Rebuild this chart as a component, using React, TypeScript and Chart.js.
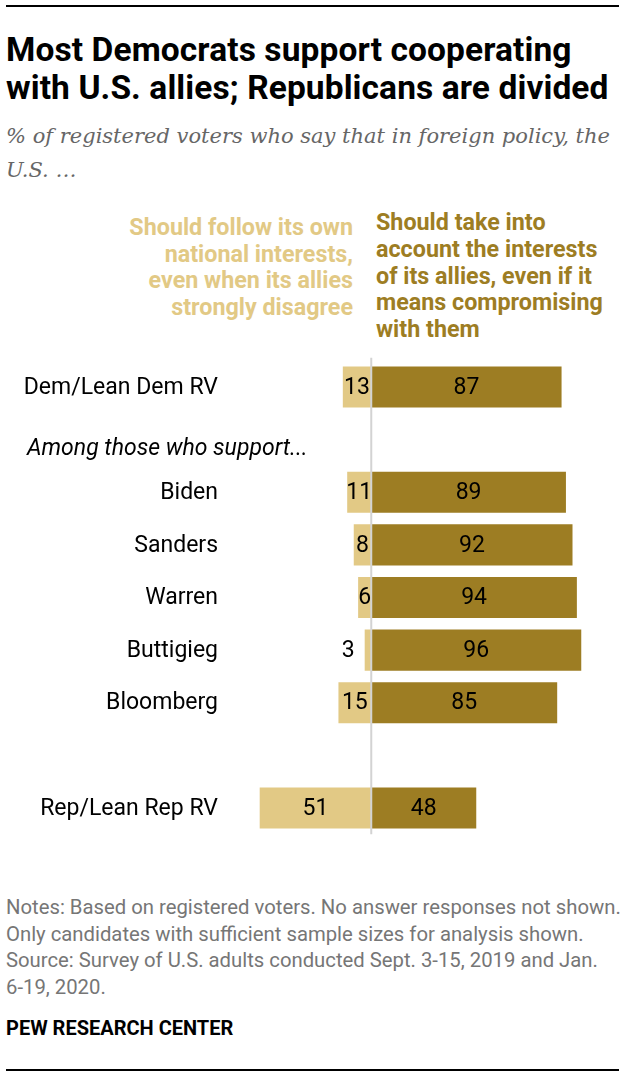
import { useEffect, useRef } from "react";
import Chart from "chart.js/auto";

const categories = [
  "Dem/Lean Dem RV",
  "",
  "Biden",
  "Sanders",
  "Warren",
  "Buttigieg",
  "Bloomberg",
  "",
  "Rep/Lean Rep RV",
];
const ownInterests: (number | null)[] = [13, null, 11, 8, 6, 3, 15, null, 51];
const alliesInterests: (number | null)[] = [87, null, 89, 92, 94, 96, 85, null, 48];

const LIGHT = "#E2C985";
const DARK = "#9D7D23";
const FONT = "Roboto, 'Noto Sans', sans-serif";

const labelPlugin = {
  id: "barLabels",
  afterDatasetsDraw(chart: any) {
    const ctx = chart.ctx;
    ctx.save();
    ctx.font = `23px ${FONT}`;
    ctx.fillStyle = "#000";
    ctx.textBaseline = "middle";
    // category labels
    const ys = chart.scales.y;
    (chart.data.labels as string[]).forEach((lab, i) => {
      if (!lab) return;
      ctx.textAlign = "right";
      ctx.fillText(lab, 218, ys.getPixelForValue(i) + 1);
    });
    // value labels
    chart.data.datasets.forEach((ds: any, di: number) => {
      const meta = chart.getDatasetMeta(di);
      meta.data.forEach((bar: any, i: number) => {
        const raw = ds.data[i];
        if (raw == null) return;
        const text = String(Math.abs(raw));
        const { x, base, y } = bar.getProps(["x", "base", "y"], true);
        const left = Math.min(x, base);
        const right = Math.max(x, base);
        const w = ctx.measureText(text).width;
        if (w <= right - left + 2) {
          ctx.textAlign = "center";
          ctx.fillText(text, (left + right) / 2, y + 1);
        } else {
          ctx.textAlign = "right";
          ctx.fillText(text, left - 10, y + 1);
        }
      });
    });
    const x0 = chart.scales.x.getPixelForValue(0);
    ctx.strokeStyle = "#d3d3d3";
    ctx.lineWidth = 2;
    ctx.beginPath();
    ctx.moveTo(x0, chart.chartArea.top - 3);
    ctx.lineTo(x0, chart.chartArea.bottom);
    ctx.stroke();
    ctx.restore();
  },
};

function BarChart() {
  const ref = useRef<HTMLCanvasElement | null>(null);
  useEffect(() => {
    if (!ref.current) return;
    const chart = new Chart(ref.current, {
      type: "bar",
      data: {
        labels: categories,
        datasets: [
          {
            label: "Should follow its own national interests",
            data: ownInterests.map((v) => (v == null ? null : -v)),
            backgroundColor: LIGHT,
            borderWidth: 0,
            barPercentage: 1,
            categoryPercentage: 0.78,
          },
          {
            label: "Should take into account the interests of its allies",
            data: alliesInterests,
            backgroundColor: DARK,
            borderWidth: 0,
            barPercentage: 1,
            categoryPercentage: 0.78,
          },
        ],
      },
      options: {
        indexAxis: "y",
        animation: false,
        responsive: false,
        maintainAspectRatio: false,
        layout: { padding: { top: 20.7, bottom: 25.7, left: 240, right: 36 } },
        plugins: {
          legend: { display: false },
          tooltip: { enabled: false },
        },
        scales: {
          x: {
            display: false,
            stacked: true,
            min: -60,
            max: 100,
            grid: { display: false },
          },
          y: {
            display: false,
            stacked: true,
            grid: { display: false },
          },
        },
      },
      plugins: [labelPlugin],
    });
    return () => chart.destroy();
  }, []);
  return (
    <canvas
      ref={ref}
      width={626}
      height={520}
      style={{ position: "absolute", left: 0, top: 340, width: 626, height: 520 }}
    />
  );
}

export default function App() {
  const abs = (o: any) => ({ position: "absolute" as const, ...o });
  return (
    <div style={abs({ left: 0, top: 0, width: 626, height: 1080, background: "#fff", fontFamily: FONT })}>
      <div style={abs({ left: 6, top: 5, width: 613, height: 2, background: "#000" })} />
      <div
        style={abs({
          left: 6,
          top: 31,
          fontSize: 33.5,
          letterSpacing: "0.1px",
          lineHeight: "38px",
          fontWeight: 700,
          color: "#000",
          whiteSpace: "nowrap",
        })}
      >
        Most Democrats support cooperating
        <br />
        with U.S. allies; Republicans are divided
      </div>
      <div
        style={abs({
          left: 6,
          top: 118.5,
          fontSize: 21,
          lineHeight: "34px",
          fontStyle: "italic",
          fontFamily: "'DejaVu Serif', serif",
          color: "#666",
          whiteSpace: "nowrap",
        })}
      >
        % of registered voters who say that in foreign policy, the
        <br />
        U.S. …
      </div>
      <div
        style={abs({
          left: 0,
          width: 353,
          top: 214,
          fontSize: 23.3,
          lineHeight: "26.5px",
          fontWeight: 700,
          color: LIGHT,
          textAlign: "right",
          whiteSpace: "nowrap",
        })}
      >
        Should follow its own
        <br />
        national interests,
        <br />
        even when its allies
        <br />
        strongly disagree
      </div>
      <div
        style={abs({
          left: 376,
          top: 209,
          fontSize: 23.3,
          lineHeight: "26.75px",
          fontWeight: 700,
          color: DARK,
          whiteSpace: "nowrap",
        })}
      >
        Should take into
        <br />
        account the interests
        <br />
        of its allies, even if it
        <br />
        means compromising
        <br />
        with them
      </div>
      <BarChart />
      <div
        style={abs({
          left: 27,
          top: 436,
          fontSize: 23,
          lineHeight: "24px",
          fontStyle: "italic",
          color: "#000",
          whiteSpace: "nowrap",
        })}
      >
        Among those who support...
      </div>
      <div
        style={abs({
          left: 6,
          top: 894,
          fontSize: 20.3,
          lineHeight: "26.7px",
          color: "#767676",
          whiteSpace: "nowrap",
        })}
      >
        Notes: Based on registered voters. No answer responses not shown.
        <br />
        Only candidates with sufficient sample sizes for analysis shown.
        <br />
        Source: Survey of U.S. adults conducted Sept. 3-15, 2019 and Jan.
        <br />
        6-19, 2020.
      </div>
      <div
        style={abs({
          left: 6,
          top: 1018,
          fontSize: 20,
          lineHeight: "20px",
          fontWeight: 700,
          color: "#000",
          whiteSpace: "nowrap",
        })}
      >
        PEW RESEARCH CENTER
      </div>
      <div style={abs({ left: 6, top: 1069, width: 613, height: 2, background: "#000" })} />
    </div>
  );
}
